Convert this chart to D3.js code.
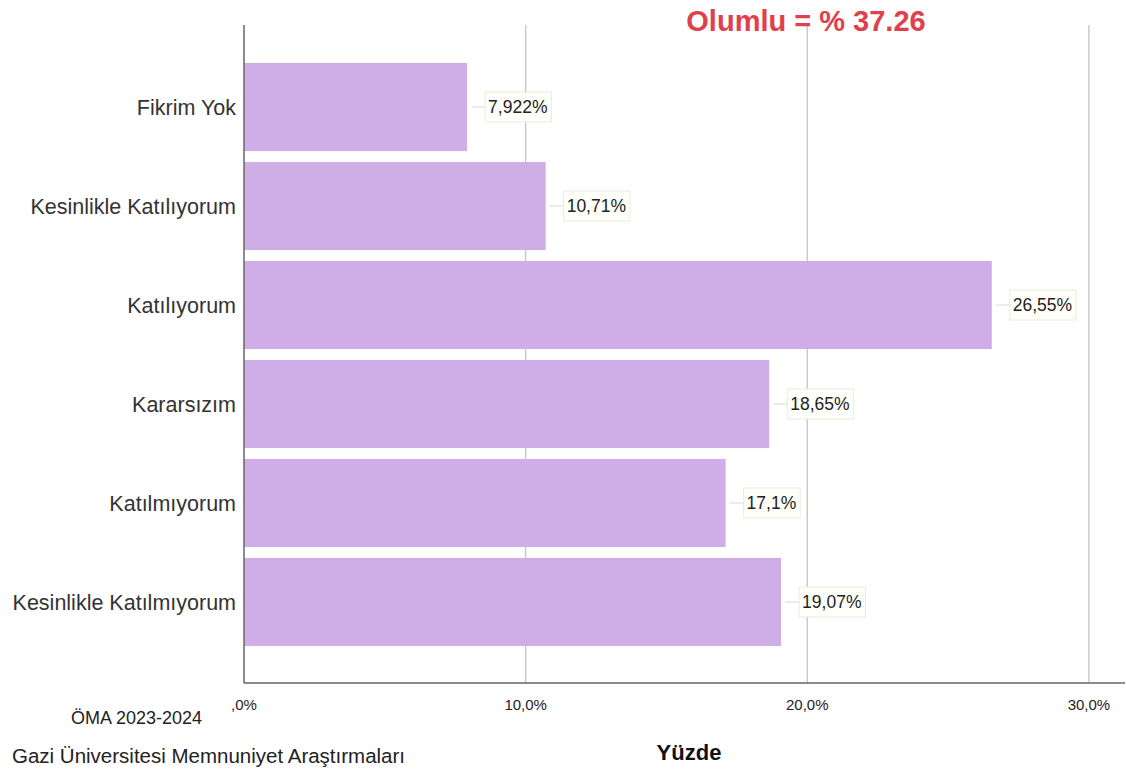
<!DOCTYPE html>
<html>
<head>
<meta charset="utf-8">
<script src="https://cdn.jsdelivr.net/npm/d3@7"></script>
<style>
  body { margin: 0; background: #fff; }
  text { font-family: "Liberation Sans", Arial, sans-serif; }
</style>
</head>
<body>
<svg id="chart" width="1126" height="780"></svg>
<script>
var categories = ['Fikrim Yok', 'Kesinlikle Katılıyorum', 'Katılıyorum', 'Kararsızım', 'Katılmıyorum', 'Kesinlikle Katılmıyorum'];
var values = [7.922, 10.71, 26.55, 18.65, 17.1, 19.07];
var valueLabels = ['7,922%', '10,71%', '26,55%', '18,65%', '17,1%', '19,07%'];
var tickValues = [0, 10, 20, 30];
var tickLabels = [',0%', '10,0%', '20,0%', '30,0%'];

var svg = d3.select('svg#chart');

var plotTop = 25,
  plotBottom = 683;

var x = d3.scaleLinear()
  .domain([0, 31.28])
  .range([244, 1125]);

var y = d3.scaleBand()
  .domain(categories)
  .range([57.5, 651.5])
  .paddingInner(0.11)
  .paddingOuter(0.055);

// grid lines
svg.append('g')
  .selectAll('line')
  .data(tickValues.slice(1))
  .enter()
  .append('line')
    .attr('x1', function (d) { return x(d); })
    .attr('x2', function (d) { return x(d); })
    .attr('y1', plotTop)
    .attr('y2', plotBottom)
    .style('stroke', '#c9c9c9')
    .style('stroke-width', 1.5);

// bars
svg.append('g')
  .selectAll('rect')
  .data(values)
  .enter()
  .append('rect')
    .attr('x', x(0))
    .attr('y', function (d, i) { return y(categories[i]); })
    .attr('width', function (d) { return x(d) - x(0); })
    .attr('height', y.bandwidth())
    .style('fill', '#cfade6');

// axes lines
svg.append('line')
  .attr('x1', x(0)).attr('x2', x(0))
  .attr('y1', plotTop).attr('y2', plotBottom)
  .style('stroke', '#666')
  .style('stroke-width', 1.5);

svg.append('line')
  .attr('x1', x(0)).attr('x2', 1125)
  .attr('y1', plotBottom).attr('y2', plotBottom)
  .style('stroke', '#666')
  .style('stroke-width', 1.5);

// category labels
svg.append('g')
  .selectAll('text')
  .data(categories)
  .enter()
  .append('text')
    .attr('x', 236)
    .attr('y', function (d) { return y(d) + y.bandwidth() / 2; })
    .attr('dy', '0.35em')
    .attr('text-anchor', 'end')
    .style('font-size', '21.5px')
    .style('fill', '#333')
    .text(function (d) { return d; });

// x tick labels
svg.append('g')
  .selectAll('text')
  .data(tickValues)
  .enter()
  .append('text')
    .attr('x', function (d) { return x(d); })
    .attr('y', 710)
    .attr('text-anchor', 'middle')
    .style('font-size', '15px')
    .style('fill', '#222')
    .text(function (d, i) { return tickLabels[i]; });

// value labels with leader line and box
var labels = svg.append('g')
  .selectAll('g')
  .data(values)
  .enter()
  .append('g')
    .attr('transform', function (d, i) {
      return 'translate(' + x(d) + ',' + (y(categories[i]) + y.bandwidth() / 2) + ')';
    });

labels.append('line')
  .attr('x1', 4).attr('x2', 18)
  .attr('y1', 0).attr('y2', 0)
  .style('stroke', '#d8d8d0')
  .style('stroke-width', 1);

var labelText = labels.append('text')
  .attr('x', 21)
  .attr('dy', '0.36em')
  .style('font-size', '17.5px')
  .style('fill', '#222')
  .text(function (d, i) { return valueLabels[i]; });

labelText.each(function () {
  var bb = this.getBBox();
  d3.select(this.parentNode).insert('rect', 'text')
    .attr('x', bb.x - 3)
    .attr('y', -15)
    .attr('width', bb.width + 7)
    .attr('height', 30)
    .style('fill', '#fffffa')
    .style('stroke', '#ebebe0')
    .style('stroke-width', 1);
});

// headline
svg.append('text')
  .attr('x', 806)
  .attr('y', 31)
  .attr('text-anchor', 'middle')
  .style('font-size', '29px')
  .style('font-weight', 'bold')
  .style('fill', '#e0404c')
  .text('Olumlu = % 37.26');

// axis title
svg.append('text')
  .attr('x', 689)
  .attr('y', 760)
  .attr('text-anchor', 'middle')
  .style('font-size', '22px')
  .style('font-weight', 'bold')
  .style('fill', '#111')
  .text('Yüzde');

// footnotes
svg.append('text')
  .attr('x', 71)
  .attr('y', 724)
  .style('font-size', '18px')
  .style('fill', '#222')
  .text('ÖMA 2023-2024');

svg.append('text')
  .attr('x', 12)
  .attr('y', 763)
  .style('font-size', '20.5px')
  .style('fill', '#222')
  .text('Gazi Üniversitesi Memnuniyet Araştırmaları');
</script>
</body>
</html>
